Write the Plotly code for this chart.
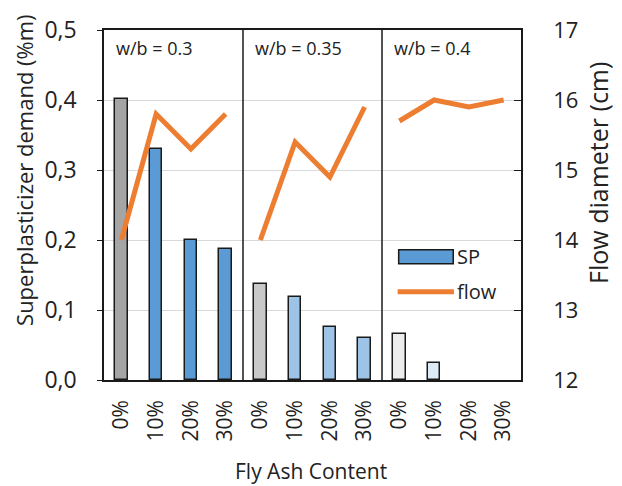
import plotly.graph_objects as go

# Fly ash replacement levels, repeated for each water/binder ratio
fly_ash = ["0%", "10%", "20%", "30%"]
wb_groups = ["w/b = 0.3", "w/b = 0.35", "w/b = 0.4"]

# Superplasticizer demand (% of binder mass)
sp_demand = [0.402, 0.330, 0.200, 0.187,
             0.137, 0.118, 0.076, 0.060,
             0.066, 0.024, 0.0, 0.0]

# Flow diameter (cm)
flow = [14.0, 15.8, 15.3, 15.8,
        14.0, 15.4, 14.9, 15.9,
        15.7, 16.0, 15.9, 16.0]

# Bar fill per group: reference mix (0%) in grey, fly ash mixes in blue
bar_colors = ["#a5a5a5", "#5b9bd5", "#5b9bd5", "#5b9bd5",
              "#c9c9c9", "#9dc3e6", "#9dc3e6", "#9dc3e6",
              "#ededed", "#ddebf7", "#ddebf7", "#ddebf7"]

FONT = "Open Sans"
ORANGE = "#ed7d31"
INK = "#1a1a1a"
TEXT = "#222"

n = len(wb_groups) * len(fly_ash)
x = list(range(n))
tick_text = fly_ash * len(wb_groups)
# no outline on empty bars
outline_w = [1.5 if v > 0 else 0 for v in sp_demand]

fig = go.Figure()

fig.add_trace(go.Bar(
    x=x, y=sp_demand, width=0.36,
    marker=dict(color=bar_colors, line=dict(color=INK, width=outline_w)),
    name="SP", showlegend=False,
))

# one flow polyline per w/b group
k = len(fly_ash)
for g in range(len(wb_groups)):
    fig.add_trace(go.Scatter(
        x=x[g * k:(g + 1) * k], y=flow[g * k:(g + 1) * k],
        mode="lines", line=dict(color=ORANGE, width=5),
        yaxis="y2", showlegend=False, name="flow",
    ))

shapes = []
# group separators
for g in range(1, len(wb_groups)):
    shapes.append(dict(type="line", xref="x", yref="paper",
                       x0=g * k - 0.5, x1=g * k - 0.5, y0=0, y1=1,
                       line=dict(color=INK, width=1.5)))

# legend drawn in the third panel
shapes.append(dict(type="rect", xref="x", yref="y",
                   x0=7.98, x1=9.55, y0=0.186, y1=0.166,
                   fillcolor="#5b9bd5", line=dict(color=INK, width=1.5)))
shapes.append(dict(type="line", xref="x", yref="y",
                   x0=7.95, x1=9.57, y0=0.126, y1=0.126,
                   line=dict(color=ORANGE, width=5)))

annotations = []
for g, label in enumerate(wb_groups):
    annotations.append(dict(text=label, xref="x", yref="paper",
                            x=g * k - 0.22, y=0.99, xanchor="left", yanchor="top",
                            showarrow=False, font=dict(family=FONT, size=18, color=TEXT)))
annotations.append(dict(text="SP", xref="x", yref="y", x=9.6, y=0.177,
                        xanchor="left", yanchor="middle", showarrow=False,
                        font=dict(family=FONT, size=20, color=TEXT)))
annotations.append(dict(text="flow", xref="x", yref="y", x=9.6, y=0.127,
                        xanchor="left", yanchor="middle", showarrow=False,
                        font=dict(family=FONT, size=20, color=TEXT)))

# axis titles
annotations.append(dict(text="Superplasticizer demand (%m)", xref="paper", yref="paper",
                        x=-0.192, y=0.6, textangle=-90, showarrow=False,
                        xanchor="center", yanchor="middle",
                        font=dict(family=FONT, size=22, color=TEXT)))
annotations.append(dict(text="Flow diameter (cm)", xref="paper", yref="paper",
                        x=1.185, y=0.592, textangle=-90, showarrow=False,
                        xanchor="center", yanchor="middle",
                        font=dict(family=FONT, size=25, color=TEXT)))
annotations.append(dict(text="Fly Ash Content", xref="paper", yref="paper",
                        x=0.497, y=-0.26, showarrow=False,
                        xanchor="center", yanchor="middle",
                        font=dict(family=FONT, size=21, color=TEXT)))

fig.update_layout(
    width=622, height=486,
    margin=dict(l=104, r=101, t=30, b=106),
    paper_bgcolor="white", plot_bgcolor="white",
    font=dict(family=FONT, color=TEXT),
    shapes=shapes, annotations=annotations,
    xaxis=dict(
        range=[-0.5, n - 0.5], tickvals=x, ticktext=tick_text,
        tickangle=-90, tickfont=dict(size=21), ticks="",
        showline=True, linecolor=INK, linewidth=1.5, mirror=True,
        showgrid=False, zeroline=False, ticklabelstandoff=10,
    ),
    yaxis=dict(
        range=[0, 0.5], dtick=0.1, tickformat=".1f",
        tickfont=dict(size=23), ticks="outside", ticklen=5, tickcolor=INK,
        showline=True, linecolor=INK, linewidth=1.5,
        showgrid=True, gridcolor="#d9d9d9", gridwidth=1.2, zeroline=False,
        ticklabelstandoff=16,
    ),
    yaxis2=dict(
        range=[12, 17], dtick=1, overlaying="y", side="right",
        tickfont=dict(size=22), ticks="inside", ticklen=7, tickcolor=INK,
        showline=True, linecolor=INK, linewidth=1.5,
        showgrid=False, zeroline=False, ticklabelstandoff=26,
    ),
    separators=",.",
    bargap=0,
)

fig.write_html("out.html")
